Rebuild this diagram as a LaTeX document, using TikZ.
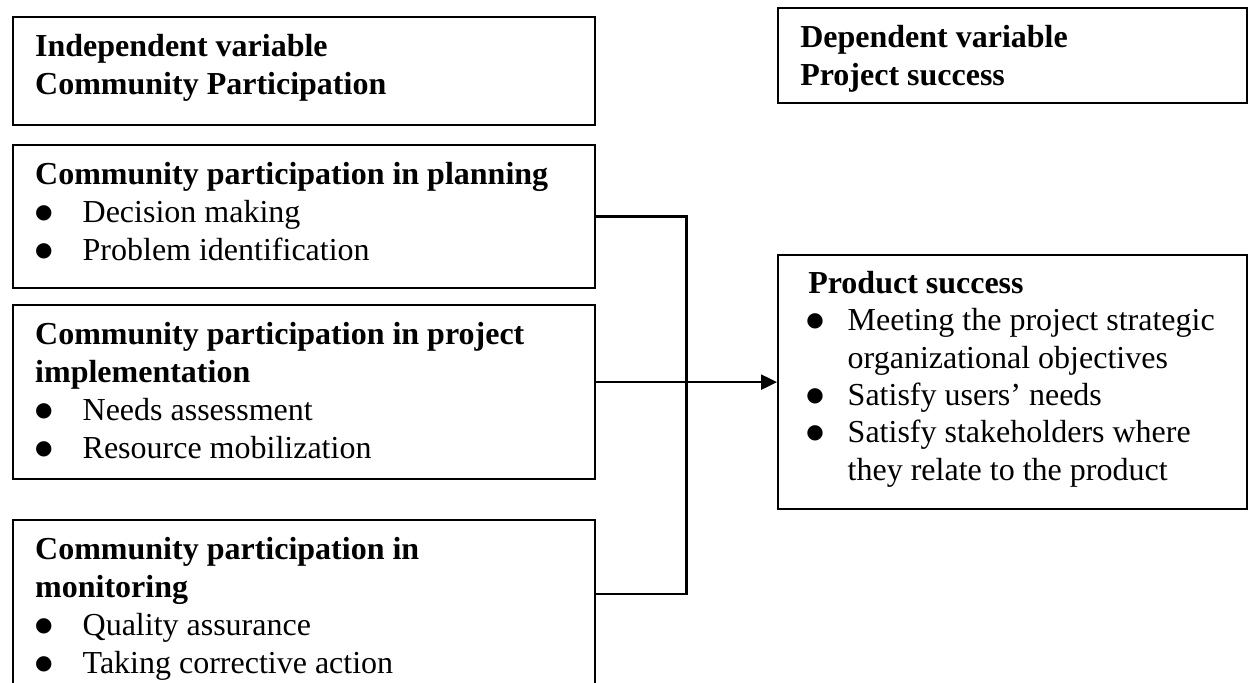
\documentclass[tikz,border=0pt]{standalone}
\usepackage{fontspec}
\setmainfont{Liberation Serif}
\newfontfamily\dotfont{DejaVu Sans}
\usetikzlibrary{arrows.meta}

\newcommand{\bitem}[2][0pt]{\par\noindent\hangindent=17.8pt\hangafter=1\makebox[17.8pt][l]{\hspace*{#1}\raisebox{1.6pt}{\dotfont\fontsize{7.5pt}{8pt}\selectfont ●}}#2}

\begin{document}
\begin{tikzpicture}
\tikzstyle{var box}=[draw,rectangle,line width=0.9pt,anchor=north west,inner xsep=8.25pt,inner ysep=4.6pt,font=\fontsize{12pt}{14.3pt}\selectfont]
\tikzset{
	conn/.style={line width=0.9pt},
	conn arrow/.style={line width=0.9pt,-{Triangle[length=6pt,width=5.6pt]}}
}
\clip (0,0) rectangle (468pt,-256.1pt);
% independent side
\node[var box] (indep) at (4.5pt,-6pt) {\parbox[t][31.3pt][t]{201.75pt}{\raggedright\strut\textbf{Independent variable\\Community Participation}}};
\node[var box] (plan) at (4.5pt,-54pt) {\parbox[t][44.4pt][t]{201.75pt}{\raggedright\strut\textbf{Community participation in planning}
	\bitem{Decision making}
	\bitem{Problem identification}}};
\node[var box] (impl) at (4.5pt,-114pt) {\parbox[t][56pt][t]{201.75pt}{\raggedright\strut\textbf{Community participation in project implementation}
	\bitem{Needs assessment}
	\bitem{Resource mobilization}}};
\node[var box] (monit) at (4.5pt,-194.6pt) {\parbox[t][80pt][t]{201.75pt}{\raggedright\strut\textbf{Community participation in monitoring}
	\bitem{Quality assurance}
	\bitem{Taking corrective action}}};
% dependent side
\node[var box] (dep) at (291.4pt,-2.6pt) {\parbox[t][26.4pt][t]{159.4pt}{\raggedright\strut\textbf{Dependent variable\\Project success}}};
\node[var box,font=\fontsize{12pt}{14pt}\selectfont] (prod) at (291.4pt,-95.25pt) {\parbox[t][86pt][t]{159.4pt}{\raggedright\strut\hspace*{3pt}\textbf{Product success}
	\bitem[2.25pt]{Meeting the project strategic organizational objectives}
	\bitem[2.25pt]{Satisfy users’ needs}
	\bitem[2.25pt]{Satisfy stakeholders where they relate to the product}}};
% connectors
\coordinate (join4) at ([yshift=-28.1pt]monit.north east);
\draw[conn] (plan.east) -- ++(33.75pt,0) |- (join4);
\draw[conn arrow] (impl.east |- prod.west) -- (prod.west);
\end{tikzpicture}
\end{document}
